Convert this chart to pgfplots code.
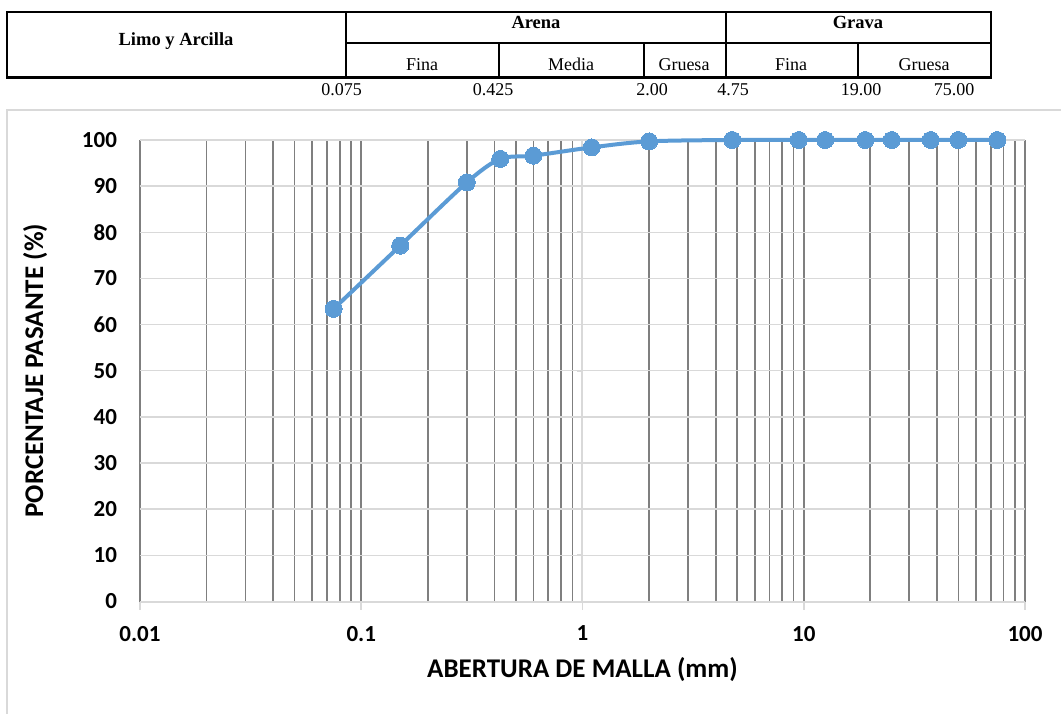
\documentclass[border=0pt]{standalone}
\usepackage{fontspec}
\setmainfont{Carlito}
\newfontfamily\timesf{Liberation Serif}
\usepackage{pgfplots}
\pgfplotsset{compat=1.18}
\definecolor{serie}{HTML}{5B9BD5}
\definecolor{gridlight}{HTML}{D9D9D9}
\definecolor{griddark}{HTML}{7F7F7F}
\begin{document}
\begin{tikzpicture}
\useasboundingbox (0pt,0pt) rectangle (1061pt,713pt);
\begin{scope}[x=1pt,y=-1pt,shift={(0pt,713pt)}]
 % chart frame
 \draw[gridlight, line width=1.5pt] (7,740) -- (7,110) -- (1075,110);
 % header table
 \draw[line width=1.7pt] (6.7,11.7) rectangle (991,77.7);
 \draw[line width=2.8pt] (6.7,77.7) -- (991,77.7);
 \draw[line width=1.7pt] (345.7,11.7) -- (345.7,77.7);
 \draw[line width=1.7pt] (726,11.7) -- (726,77.7);
 \draw[line width=1.7pt] (345.7,43.3) -- (991,43.3);
 \draw[line width=1.7pt] (499,43.3) -- (499,77.7);
 \draw[line width=1.7pt] (644,43.3) -- (644,77.7);
 \draw[line width=1.7pt] (857.7,43.3) -- (857.7,77.7);
 \begin{scope}[every node/.style={anchor=base, inner sep=0pt}]
 \node[font=\timesf\bfseries\fontsize{18.5}{20}\selectfont] at (176,45.7) {Limo y Arcilla};
 \node[font=\timesf\bfseries\fontsize{18.5}{20}\selectfont] at (536,28.3) {Arena};
 \node[font=\timesf\bfseries\fontsize{18.5}{20}\selectfont] at (858,28.3) {Grava};
 \node[font=\timesf\fontsize{18}{20}\selectfont] at (422,70.7) {Fina};
 \node[font=\timesf\fontsize{18}{20}\selectfont] at (571,70.7) {Media};
 \node[font=\timesf\fontsize{18}{20}\selectfont] at (684,70.7) {Gruesa};
 \node[font=\timesf\fontsize{18}{20}\selectfont] at (791,70.7) {Fina};
 \node[font=\timesf\fontsize{18}{20}\selectfont] at (924,70.7) {Gruesa};
 \node[font=\timesf\fontsize{18}{20}\selectfont] at (341.5,96) {0.075};
 \node[font=\timesf\fontsize{18}{20}\selectfont] at (493,96) {0.425};
 \node[font=\timesf\fontsize{18}{20}\selectfont] at (652,96) {2.00};
 \node[font=\timesf\fontsize{18}{20}\selectfont] at (733,96) {4.75};
 \node[font=\timesf\fontsize{18}{20}\selectfont] at (861,96) {19.00};
 \node[font=\timesf\fontsize{18}{20}\selectfont] at (954,96) {75.00};
 \end{scope}
\end{scope}
\begin{axis}[
  at={(140pt,111.5pt)}, anchor=south west,
  scale only axis, width=885pt, height=461.5pt,
  xmode=log, log basis x=10,
  xmin=0.01, xmax=100, ymin=0, ymax=100,
  xtick={0.01,0.1,1,10,100},
  xticklabels={0.01,0.1,1,10,100},
  minor xtick={0.02,0.03,0.04,0.05,0.06,0.07,0.08,0.09,0.2,0.3,0.4,0.5,0.6,0.7,0.8,0.9,2,3,4,5,6,7,8,9,20,30,40,50,60,70,80,90},
  ytick={0,10,20,30,40,50,60,70,80,90,100},
  yticklabels={0,10,20,30,40,50,60,70,80,90,100},
  xmajorgrids, xminorgrids, ymajorgrids,
  major x grid style={griddark, line width=1.7pt},
  minor x grid style={griddark, line width=1.7pt},
  major y grid style={gridlight, line width=1.5pt},
  axis line style={draw=none},
  xtick style={draw=none}, ytick style={draw=none},
  minor tick length=0pt,
  ticklabel style={font=\bfseries\fontsize{23}{25}\selectfont},
  yticklabel style={xshift=-19.5pt},
  xticklabel style={yshift=-21pt},
  xlabel={ABERTURA DE MALLA (mm)},
  ylabel={PORCENTAJE PASANTE (\%)},
  label style={font=\bfseries\fontsize{27}{29}\selectfont},
  xlabel style={at={(axis description cs:0.5,-0.1484)}, anchor=center},
  ylabel style={at={(axis description cs:-0.1186,0.5)}, anchor=center, rotate=0},
  clip=false,
]
\draw[gridlight, line width=2pt] (axis cs:0.01,0) -- (axis cs:100,0);
\draw[gridlight, line width=2pt] (axis cs:1,0) -- (axis cs:1,100);
\pgfplotsinvokeforeach{0.01,0.1,1,10,100}{\draw[gridlight, line width=1.8pt] (axis cs:#1,0) -- ++(0pt,-8pt);}
\pgfplotsinvokeforeach{0,10,20,30,40,50,60,70,80,90,100}{\draw[gridlight, line width=1.8pt] (axis cs:1,#1) -- ++(-5pt,0pt);}
\addplot[serie, line width=4pt, smooth, tension=0.5, mark=*, mark size=8.5pt,
  mark options={fill=serie, draw=serie, line width=0pt}] coordinates {
 (0.075,63.4) (0.15,77.1) (0.3,90.8) (0.425,95.9) (0.6,96.6) (1.1,98.4)
 (2.0,99.7) (4.75,100) (9.5,100) (12.5,100) (19,100) (25,100)
 (37.5,100) (50,100) (75,100)
};
\end{axis}
\end{tikzpicture}
\end{document}
